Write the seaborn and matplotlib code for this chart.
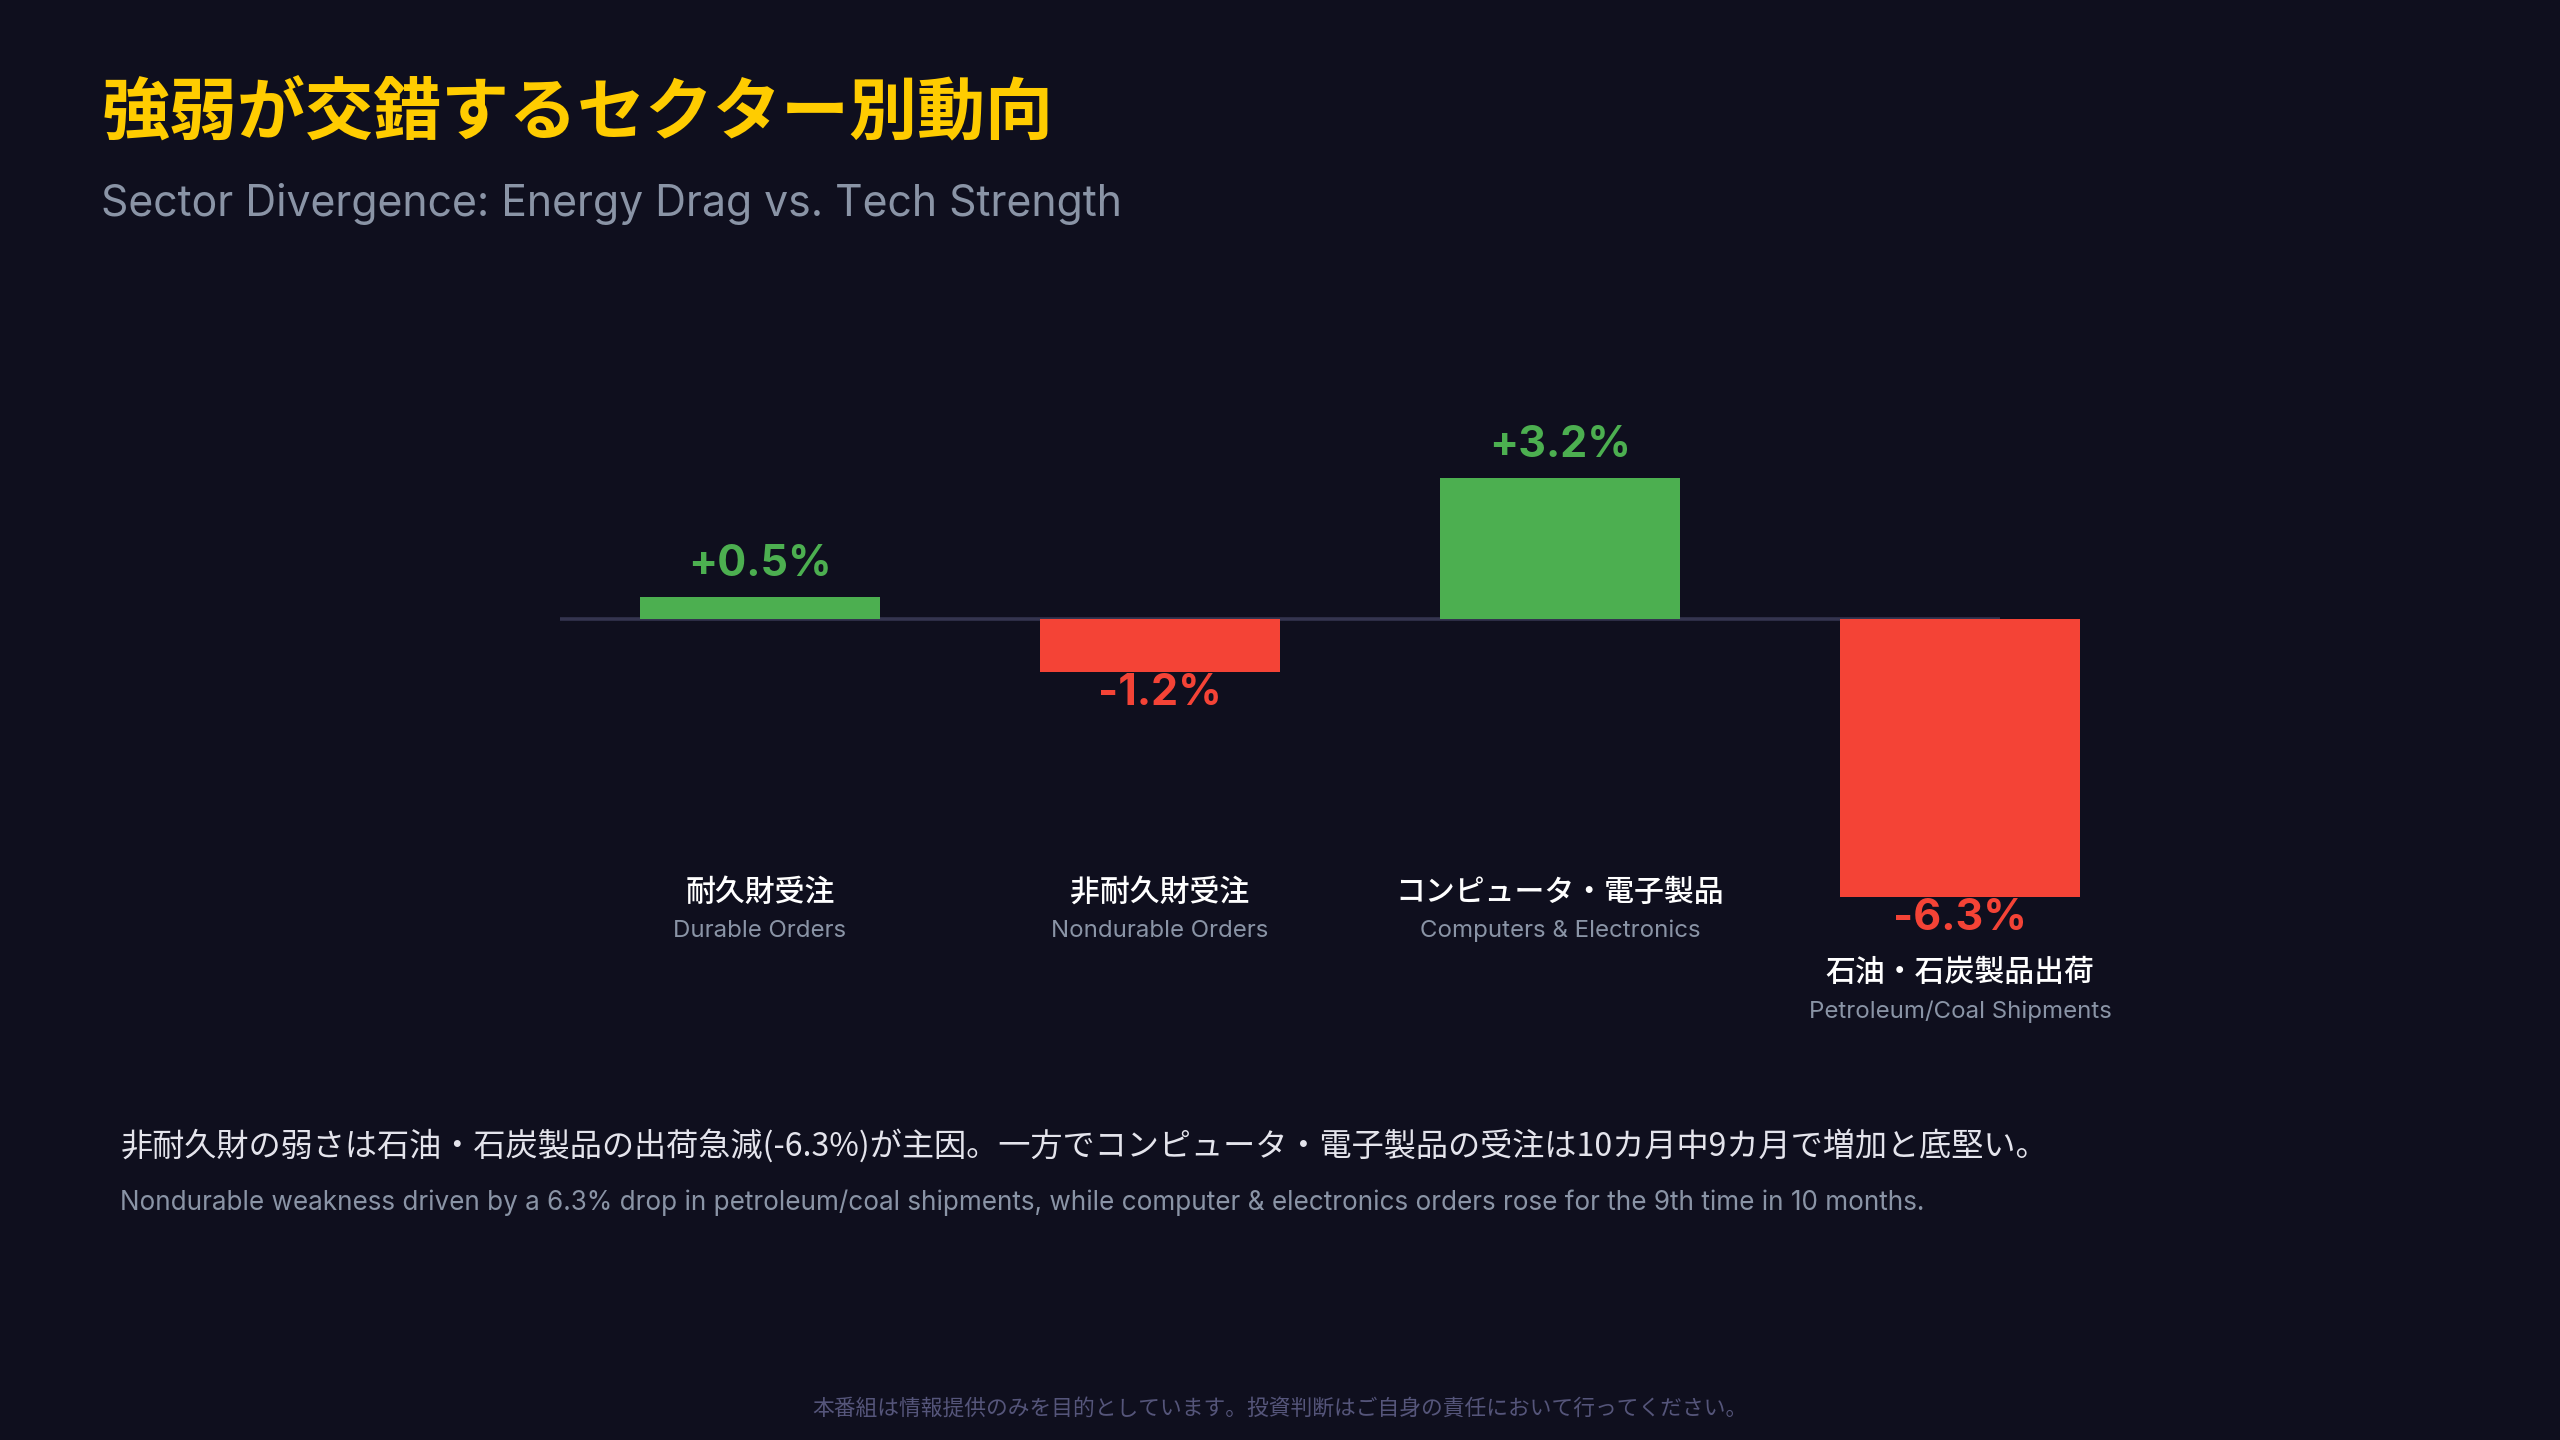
import matplotlib
matplotlib.use("Agg")
import matplotlib.pyplot as plt
import numpy as np
import pandas as pd
import seaborn as sns

# データ
categories_jp = ['耐久財受注', '非耐久財受注', 'コンピュータ・電子製品', '石油・石炭製品出荷']
categories_en = ['Durable Orders', 'Nondurable Orders', 'Computers & Electronics', 'Petroleum/Coal Shipments']
values = [0.5, -1.2, 3.2, -6.3]
value_labels = ['+0.5%', '-1.2%', '+3.2%', '-6.3%']

title = '強弱が交錯するセクター別動向'
subtitle = 'Sector Divergence: Energy Drag vs. Tech Strength'
note_jp = '非耐久財の弱さは石油・石炭製品の出荷急減(-6.3%)が主因。一方でコンピュータ・電子製品の受注は10カ月中9カ月で増加と底堅い。'
note_en = 'Nondurable weakness driven by a 6.3% drop in petroleum/coal shipments, while computer & electronics orders rose for the 9th time in 10 months.'
footer = '本番組は情報提供のみを目的としています。投資判断はご自身の責任において行ってください。'

# 色
BG = '#0f0f1e'
GREEN = '#4caf50'
RED = '#f44336'
GOLD = '#ffcc00'
GRAY = '#8a94a6'

JP = ['Noto Sans CJK JP', 'DejaVu Sans']
EN = ['Inter', 'Noto Sans CJK JP', 'DejaVu Sans']

sns.set_theme(style='dark')
plt.rcParams['font.family'] = JP

df = pd.DataFrame({'cat': categories_jp, 'value': values})
colors = [GREEN if v >= 0 else RED for v in values]

fig = plt.figure(figsize=(25.6, 14.4), dpi=100, facecolor=BG)
ax = fig.add_axes([0, 0, 1, 1])
ax.set_facecolor(BG)

# ゼロライン
ax.hlines(0, -0.5, 3.1, color='#34344f', linewidth=2.6, zorder=1)

sns.barplot(data=df, x='cat', y='value', hue='cat', palette=colors,
            width=0.6, legend=False, saturation=1, linewidth=0,
            edgecolor='none', ax=ax, zorder=2)

ax.set_xlim(-1.9, 4.5)
ax.set_ylim(-18.6, 14.04)
ax.axis('off')

for i, (v, lab) in enumerate(zip(values, value_labels)):
    c = GREEN if v >= 0 else RED
    y = v + 0.74 if v >= 0 else v - 0.48
    ax.text(i, y, lab, ha='center', va='center', color=c, fontsize=31,
            fontweight='bold', family=EN, zorder=3)
    y_jp = min(-6.18, v - 1.71)
    ax.text(i, y_jp, categories_jp[i], ha='center', va='center', color='white',
            fontsize=21.5, fontweight='medium', family=JP)
    ax.text(i, y_jp - 0.88, categories_en[i], ha='center', va='center', color=GRAY,
            fontsize=17.3, family=EN)

# タイトル
fig.text(0.0395, 0.921, title, ha='left', va='center', color=GOLD,
         fontsize=49, fontweight='bold', family=JP)
fig.text(0.0395, 0.858, subtitle, ha='left', va='center', color=GRAY,
         fontsize=30.8, family=EN)

# 注釈
fig.text(0.047, 0.204, note_jp, ha='left', va='center', color='#e4e4ec',
         fontsize=23.15, family=JP)
fig.text(0.047, 0.1646, note_en, ha='left', va='center', color=GRAY,
         fontsize=18.8, family=EN)
fig.text(0.5, 0.0217, footer, ha='center', va='center', color='#55557a',
         fontsize=15.65, family=JP)

fig.savefig('out.png', dpi=100, facecolor=BG)
